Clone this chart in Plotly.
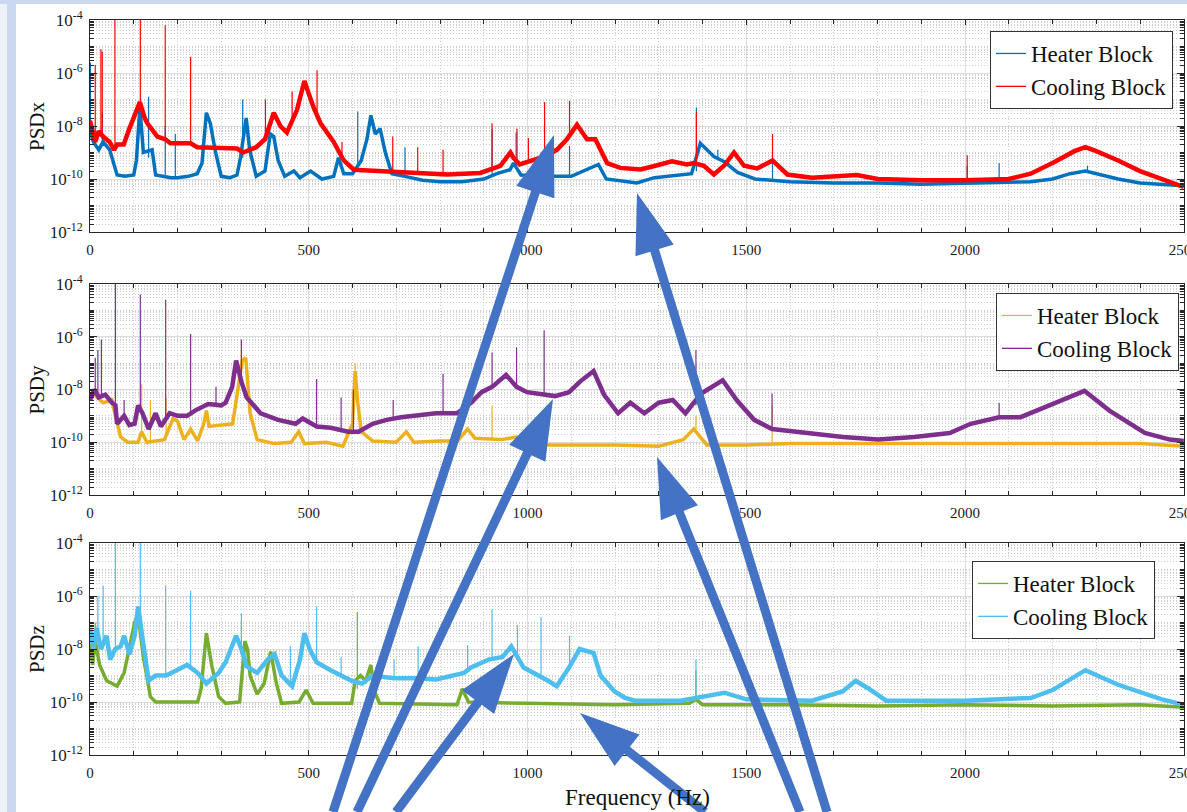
import plotly.graph_objects as go

W, H = 1187, 812
ML, MR, MT, MB = 90, 3, 20, 57
PW, PH = W - ML - MR, H - MT - MB

# ---------------- data: (frequency [Hz], log10 PSD) ----------------
# PSDx
x_heater = [(0,-8.2),(8,-8.6),(20,-8.9),(30,-8.6),(45,-8.9),(55,-9.5),(62,-9.85),(80,-9.9),(100,-9.85),
            (106,-9.3),(114,-7.3),(122,-9.0),(142,-8.9),(150,-9.85),(170,-9.9),(185,-9.95),(200,-9.95),
            (225,-9.9),(245,-9.8),(256,-9.4),(266,-7.5),(275,-7.9),(287,-9.0),(300,-9.9),(320,-9.95),
            (336,-9.85),(344,-9.2),(357,-7.7),(365,-8.9),(380,-9.9),(400,-9.7),(412,-8.3),(420,-8.4),
            (430,-9.3),(445,-9.9),(466,-9.7),(480,-9.95),(504,-9.7),(530,-10.0),(557,-9.9),(568,-9.2),
            (580,-9.8),(600,-9.8),(620,-9.3),(633,-8.5),(642,-7.6),(652,-8.3),(663,-8.1),(675,-9.0),
            (690,-9.8),(720,-9.9),(760,-10.05),(800,-10.1),(850,-10.1),(900,-10.0),(930,-9.8),(960,-9.65),
            (968,-9.4),(985,-9.85),(1040,-9.9),(1100,-9.9),(1162,-9.45),(1180,-10.0),(1250,-10.15),
            (1290,-9.95),(1340,-9.85),(1375,-9.8),(1395,-8.65),(1410,-8.9),(1426,-9.15),(1450,-9.35),
            (1480,-9.75),(1520,-10.0),(1600,-10.1),(1700,-10.15),(1800,-10.15),(1900,-10.2),(2000,-10.15),
            (2100,-10.1),(2150,-10.1),(2200,-10.0),(2240,-9.8),(2275,-9.7),(2310,-9.85),(2350,-10.0),
            (2400,-10.15),(2450,-10.2),(2500,-10.25)]
x_heater_spikes = [(1,-8.2,-5.6),(28,-8.6,-7.5),(134,-9.2,-6.9),(172,-9.9,-8.0),(195,-9.95,-8.3),
                   (349,-9.2,-7.0),(612,-9.5,-7.45),(720,-9.9,-8.8),(919,-9.9,-8.1),(974,-9.5,-8.25),
                   (1096,-9.9,-8.75),(1386,-9.7,-7.3),(1435,-9.2,-8.9),(1560,-10.05,-9.3),
                   (2005,-10.15,-9.5),(2078,-10.1,-9.4),(2280,-9.7,-9.5)]
x_cooling = [(0,-7.8),(6,-8.3),(12,-8.6),(20,-8.2),(30,-8.4),(45,-8.6),(55,-8.9),(62,-8.7),(77,-8.7),
             (90,-8.1),(100,-7.7),(114,-7.1),(125,-7.7),(131,-7.9),(154,-8.4),(172,-8.5),(184,-8.65),
             (230,-8.65),(245,-8.8),(336,-8.85),(350,-9.0),(380,-8.8),(400,-8.5),(420,-7.5),(435,-8.0),
             (450,-8.25),(473,-7.4),(490,-6.3),(511,-7.3),(527,-7.9),(557,-8.6),(580,-9.3),(603,-9.65),
             (663,-9.7),(740,-9.77),(816,-9.83),(892,-9.77),(938,-9.5),(961,-9.0),(968,-9.2),(982,-9.45),
             (1039,-9.15),(1067,-8.9),(1090,-8.5),(1113,-7.95),(1136,-8.5),(1155,-8.5),(1182,-9.4),
             (1212,-9.58),(1258,-9.64),(1288,-9.52),(1330,-9.33),(1364,-9.45),(1380,-9.4),(1403,-9.5),
             (1426,-9.83),(1449,-9.5),(1472,-9.0),(1495,-9.5),(1525,-9.6),(1560,-9.3),(1594,-9.83),
             (1650,-9.95),(1753,-9.85),(1800,-10.0),(1900,-10.05),(2000,-10.05),(2100,-10.0),
             (2150,-9.8),(2200,-9.4),(2250,-8.95),(2275,-8.8),(2300,-8.95),(2350,-9.3),(2400,-9.7),
             (2450,-10.0),(2500,-10.3)]
x_cooling_spikes = [(12,-8.6,-5.7),(25,-8.3,-5.1),(28,-8.4,-5.2),(57,-8.9,-4.0),(115,-7.1,-4.0),
                    (172,-8.5,-4.2),(230,-8.65,-5.4),(401,-8.5,-7.0),(462,-7.8,-6.7),(519,-7.5,-5.9),
                    (576,-9.2,-8.6),(692,-9.7,-8.4),(749,-9.75,-8.8),(807,-9.8,-8.9),(919,-9.7,-7.9),
                    (976,-9.3,-8.1),(1002,-9.4,-8.45),(1039,-9.15,-7.1),(1096,-8.4,-7.05),
                    (1386,-9.4,-7.5),(1560,-9.3,-8.3),(2005,-10.0,-9.1)]

# PSDy
y_heater = [(0,-8.3),(10,-8.2),(30,-8.5),(50,-8.4),(58,-9.0),(70,-9.8),(86,-10.0),(110,-10.0),
            (118,-9.6),(130,-10.0),(170,-9.9),(190,-9.1),(200,-9.2),(215,-9.9),(230,-9.5),(246,-9.95),
            (260,-9.3),(266,-8.8),(272,-9.4),(300,-9.35),(326,-9.3),(338,-8.0),(348,-6.9),(356,-6.8),
            (366,-8.9),(382,-9.9),(420,-10.05),(460,-10.0),(477,-9.6),(490,-10.05),(540,-10.0),
            (578,-10.15),(600,-9.3),(606,-7.3),(612,-8.5),(620,-9.6),(646,-9.95),(700,-10.0),(723,-9.6),
            (740,-10.0),(800,-9.95),(840,-9.95),(863,-9.5),(880,-9.85),(940,-9.9),(975,-9.8),
            (1000,-10.1),(1100,-10.1),(1200,-10.1),(1300,-10.15),(1356,-9.9),(1380,-9.5),(1390,-9.7),
            (1410,-10.1),(1500,-10.1),(1600,-10.05),(1800,-10.05),(2000,-10.05),(2200,-10.05),
            (2400,-10.05),(2500,-10.15)]
y_heater_spikes = [(118,-9.6,-7.8),(138,-10.0,-8.4),(174,-9.9,-8.3),(346,-7.0,-6.5),(606,-8.0,-7.0),
                   (919,-9.9,-8.6),(1385,-9.5,-9.0),(1559,-10.1,-8.6)]
y_cooling = [(0,-8.4),(10,-8.0),(20,-8.3),(35,-8.2),(50,-8.5),(58,-8.6),(62,-9.3),(78,-9.0),(90,-9.35),
             (102,-9.3),(110,-8.6),(120,-8.9),(134,-9.5),(150,-8.9),(162,-9.4),(182,-8.9),(200,-9.0),
             (222,-9.0),(240,-8.8),(270,-8.55),(300,-8.6),(310,-8.5),(325,-7.9),(334,-6.9),(346,-7.7),
             (358,-8.3),(390,-8.9),(430,-9.15),(470,-9.3),(486,-9.1),(518,-9.4),(550,-9.45),(590,-9.6),
             (614,-9.6),(646,-9.3),(678,-9.15),(711,-9.05),(791,-8.9),(839,-8.9),(871,-8.5),(895,-8.1),
             (919,-7.9),(951,-7.45),(975,-7.9),(999,-8.1),(1023,-8.15),(1063,-8.25),(1095,-8.1),
             (1120,-7.7),(1151,-7.3),(1175,-8.2),(1207,-8.9),(1235,-8.5),(1267,-8.9),(1300,-8.5),
             (1332,-8.4),(1361,-8.9),(1397,-8.15),(1446,-7.65),(1478,-8.4),(1518,-9.15),(1559,-9.5),
             (1640,-9.65),(1721,-9.8),(1802,-9.9),(1884,-9.8),(1965,-9.65),(2013,-9.3),(2078,-9.05),
             (2127,-9.05),(2208,-8.5),(2273,-8.05),(2330,-8.8),(2411,-9.65),(2468,-9.9),(2500,-9.95)]
y_cooling_spikes = [(12,-8.0,-6.8),(18,-8.2,-6.5),(26,-8.3,-6.1),(58,-8.5,-4.0),(78,-9.0,-8.4),
                    (115,-8.7,-4.4),(173,-9.2,-4.6),(230,-9.0,-5.9),(288,-8.6,-7.9),(346,-7.5,-6.1),
                    (518,-9.4,-7.6),(574,-9.5,-8.3),(602,-9.6,-8.0),(693,-9.1,-8.4),(807,-8.9,-7.4),
                    (919,-7.9,-6.6),(975,-7.9,-6.4),(1038,-8.2,-5.75),(1385,-8.6,-6.5),
                    (1559,-9.5,-8.15),(2078,-9.05,-8.5)]

# PSDz
z_heater = [(0,-7.8),(6,-8.6),(12,-7.7),(22,-8.6),(38,-9.2),(62,-9.4),(78,-8.9),(95,-7.6),(102,-7.0),
            (110,-6.7),(122,-8.3),(138,-9.8),(150,-10.0),(246,-10.0),(254,-9.5),(266,-7.4),(278,-8.6),
            (294,-9.8),(310,-10.05),(342,-10.0),(350,-8.5),(354,-7.7),(360,-8.0),(366,-9.0),(382,-9.7),
            (398,-9.3),(413,-8.1),(426,-9.3),(438,-10.05),(478,-10.0),(494,-9.55),(510,-10.05),
            (598,-10.05),(606,-9.2),(618,-9.0),(630,-9.2),(642,-8.6),(650,-9.6),(662,-10.05),
            (839,-10.1),(851,-9.5),(865,-10.0),(1000,-10.05),(1200,-10.1),(1370,-10.05),(1385,-9.9),
            (1400,-10.1),(1600,-10.1),(1800,-10.15),(2000,-10.1),(2200,-10.15),(2400,-10.1),(2500,-10.2)]
z_heater_spikes = [(12,-8.0,-7.0),(611,-9.5,-6.6),(1385,-9.9,-8.8)]
z_cooling = [(0,-7.2),(8,-8.0),(15,-7.2),(25,-8.0),(38,-7.5),(46,-8.4),(58,-8.0),(70,-7.9),(78,-7.5),
             (90,-8.2),(102,-7.5),(110,-6.4),(120,-7.6),(126,-8.3),(134,-9.2),(150,-9.0),(174,-9.0),
             (198,-8.8),(222,-8.6),(246,-8.9),(266,-9.3),(294,-8.9),(310,-8.5),(334,-7.5),(346,-8.0),
             (358,-8.65),(382,-8.9),(406,-8.4),(422,-8.2),(438,-9.0),(462,-9.4),(480,-8.4),(490,-7.4),
             (502,-8.0),(518,-8.5),(550,-8.8),(574,-9.0),(598,-9.2),(622,-9.3),(646,-9.0),(695,-9.1),
             (751,-9.1),(791,-9.15),(831,-9.0),(855,-8.9),(871,-8.7),(911,-8.4),(943,-8.3),(963,-7.9),
             (991,-8.7),(1015,-8.9),(1047,-9.2),(1067,-9.4),(1095,-8.7),(1119,-8.0),(1151,-8.15),
             (1167,-9.0),(1199,-9.6),(1223,-9.85),(1246,-9.95),(1350,-9.95),(1400,-9.8),(1450,-9.65),
             (1500,-9.9),(1650,-9.95),(1720,-9.6),(1750,-9.2),(1780,-9.5),(1820,-9.95),(2000,-9.95),
             (2150,-9.85),(2200,-9.55),(2275,-8.8),(2350,-9.35),(2450,-9.9),(2500,-10.1)]
z_cooling_spikes = [(18,-7.5,-6.0),(30,-7.8,-5.6),(58,-8.0,-4.0),(115,-6.8,-4.0),(173,-9.0,-5.6),
                    (230,-8.7,-5.8),(346,-8.0,-6.65),(458,-9.3,-7.9),(518,-8.5,-6.4),(574,-9.0,-8.3),
                    (695,-9.1,-8.4),(750,-9.1,-7.9),(863,-8.8,-7.85),(919,-8.4,-6.5),(977,-8.3,-7.1),
                    (1031,-9.0,-6.8),(1096,-8.7,-7.5),(1385,-9.8,-8.4)]

names = ["Heater Block", "Cooling Block"]
panels = [
    ("PSDx", x_heater, x_heater_spikes, x_cooling, x_cooling_spikes, "#0072BD", "#FF0000"),
    ("PSDy", y_heater, y_heater_spikes, y_cooling, y_cooling_spikes, "#EDB120", "#7E2F8E"),
    ("PSDz", z_heater, z_heater_spikes, z_cooling, z_cooling_spikes, "#77AC30", "#4DBEEE"),
]
# pixel layout of the three axes (top, bottom) and legends (right, top)
axes_px = [(20, 232), (284, 495), (543, 755)]
legend_px = [(1173, 31), (1179, 293), (1155, 561)]
FONT = "Liberation Serif"


def px(xp, yp):
    return (xp - ML) / PW, (H - MB - yp) / PH


fig = go.Figure()
for i, (ttl, heat, heat_sp, cool, cool_sp, c_h, c_c) in enumerate(panels):
    sfx = "" if i == 0 else str(i + 1)
    xa, ya = "x" + sfx, "y" + sfx
    leg = "legend" + sfx
    for series, spikes, col, wid in ((heat, heat_sp, c_h, 3.5), (cool, cool_sp, c_c, 4.5)):
        fig.add_trace(go.Scatter(x=[p[0] for p in series], y=[10 ** p[1] for p in series],
                                 mode="lines", line=dict(color=col, width=wid),
                                 xaxis=xa, yaxis=ya, showlegend=False, hoverinfo="skip"))
        sx, sy = [], []
        for f, lo, hi in spikes:
            sx += [f, f, None]
            sy += [10 ** lo, 10 ** hi, None]
        fig.add_trace(go.Scatter(x=sx, y=sy, mode="lines", line=dict(color=col, width=1.2),
                                 xaxis=xa, yaxis=ya, showlegend=False, hoverinfo="skip"))
    for nm, col in zip(names, (c_h, c_c)):
        fig.add_trace(go.Scatter(x=[None], y=[None], mode="lines", name=nm,
                                 line=dict(color=col, width=1.3), xaxis=xa, yaxis=ya, legend=leg))

decades = [-12, -11, -10, -9, -8, -7, -6, -5, -4]
major_y = [10.0 ** d for d in decades if d % 2 == 0]
major_txt = ["10<sup>%d</sup>" % d for d in decades if d % 2 == 0]
minor_y = [k * 10.0 ** d for d in decades[:-1] for k in range(1, 10) if not (k == 1 and d % 2 == 0)]

layout = dict(width=W, height=H, margin=dict(l=ML, r=MR, t=MT, b=MB, autoexpand=False),
              paper_bgcolor="white", plot_bgcolor="white", showlegend=True,
              font=dict(family=FONT, color="#1a1a1a"))
annotations, shapes = [], []
for i, (ttl, *_rest) in enumerate(panels):
    sfx = "" if i == 0 else str(i + 1)
    top, bot = axes_px[i]
    dom = [max(0, (H - MB - bot) / PH), min(1, (H - MB - top) / PH)]
    layout["xaxis" + sfx] = dict(
        anchor="y" + sfx, domain=[0, 1], range=[0, 2500.5], dtick=500, tick0=0, automargin=False,
        ticks="inside", ticklen=5, tickcolor="#262626", mirror="allticks", showline=True,
        linecolor="#262626", linewidth=1, showgrid=True, gridcolor="#dcdcdc", gridwidth=1,
        zeroline=False, tickfont=dict(family=FONT, size=15, color="#1a1a1a"), ticklabelstandoff=4,
        ticklabeloverflow="allow",
        minor=dict(dtick=100, tick0=0, ticks="inside", ticklen=4, tickcolor="#262626",
                   showgrid=True, gridcolor="#cfcfcf", griddash="1px,2px", gridwidth=1))
    layout["yaxis" + sfx] = dict(
        anchor="x" + sfx, domain=dom, type="log", range=[-12, -4], automargin=False,
        tickmode="array", tickvals=major_y, ticktext=major_txt,
        ticks="inside", ticklen=7, tickcolor="#262626", mirror="allticks", showline=True,
        linecolor="#262626", linewidth=1, showgrid=True, gridcolor="#dcdcdc", gridwidth=1,
        zeroline=False, tickfont=dict(family=FONT, size=17, color="#1a1a1a"), ticklabelstandoff=3,
        minor=dict(tickmode="array", tickvals=minor_y, ticks="inside", ticklen=4, tickcolor="#262626",
                   showgrid=True, gridcolor="#cfcfcf", griddash="1px,2px", gridwidth=1))
    lx, ly = px(*legend_px[i])
    layout["legend" + sfx] = dict(
        x=lx, y=ly, xanchor="right", yanchor="top", xref="paper", yref="paper",
        bgcolor="white", bordercolor="#333333", borderwidth=1, itemwidth=30, tracegroupgap=0,
        font=dict(family=FONT, size=23, color="#111111"))
    tx, ty = px(37, (top + bot) / 2)
    annotations.append(dict(text=ttl, x=tx, y=ty, xref="paper", yref="paper", showarrow=False,
                            textangle=-90, xanchor="center", yanchor="middle",
                            font=dict(family=FONT, size=21, color="#111111")))

fx, fy = px(637, 797)
annotations.append(dict(text="Frequency (Hz)", x=fx, y=fy, xref="paper", yref="paper",
                        showarrow=False, xanchor="center", yanchor="middle",
                        font=dict(family=FONT, size=23, color="#111111")))

# slide background strips
for (x0, y0, x1, y1, col) in [(0, 0, 7, H, "#eef2f8"), (7, 0, 16, H, "#cbd8ef"), (0, 0, W, 4, "#cbd8ef")]:
    a0, b0 = px(x0, y0)
    a1, b1 = px(x1, y1)
    shapes.append(dict(type="rect", xref="paper", yref="paper", x0=a0, y0=b0, x1=a1, y1=b1,
                       fillcolor=col, line=dict(width=0), layer="below"))


def arrow_path(tail, tip, w=9.0, hl=60.0, hw=40.0):
    (x0, y0), (x1, y1) = tail, tip
    d = ((x1 - x0) ** 2 + (y1 - y0) ** 2) ** 0.5
    ux, uy = (x1 - x0) / d, (y1 - y0) / d
    nx, ny = -uy, ux
    bx, by = x1 - ux * hl, y1 - uy * hl
    pts = [(x0 + nx * w / 2, y0 + ny * w / 2), (bx + nx * w / 2, by + ny * w / 2),
           (bx + nx * hw / 2, by + ny * hw / 2), (x1, y1),
           (bx - nx * hw / 2, by - ny * hw / 2), (bx - nx * w / 2, by - ny * w / 2),
           (x0 - nx * w / 2, y0 - ny * w / 2)]
    conv = [px(a, b) for a, b in pts]
    return "M " + " L ".join("%.5f,%.5f" % c for c in conv) + " Z"


arrows = [((333, 812), (554, 135)), ((357, 812), (553, 399)), ((396, 812), (514, 654)),
          ((705, 812), (580, 713)), ((827, 812), (637, 193)), ((800, 812), (657, 457))]
for tail, tip in arrows:
    shapes.append(dict(type="path", xref="paper", yref="paper", path=arrow_path(tail, tip),
                       fillcolor="#4472C4", line=dict(width=0), layer="above"))

layout["annotations"] = annotations
layout["shapes"] = shapes
fig.update_layout(**layout)
fig.write_html("out.html")
